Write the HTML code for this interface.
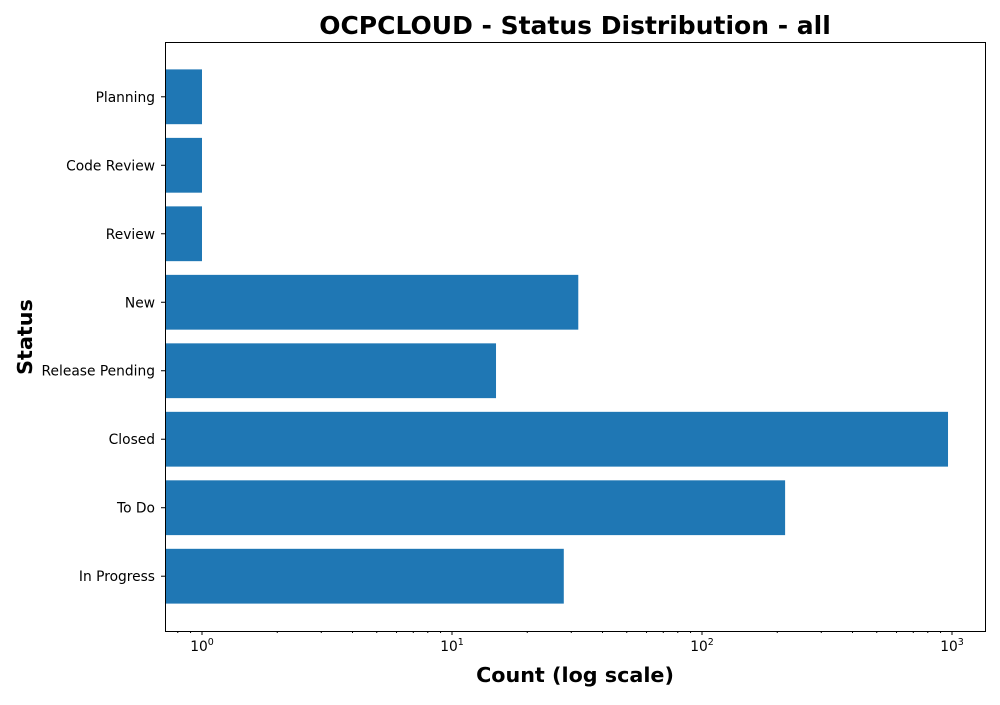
<!DOCTYPE html>
<html><head><meta charset="utf-8"><style>
body{margin:0;background:#fff;font-family:"Liberation Sans","DejaVu Sans",sans-serif;}
</style></head><body>
<svg id="chart" width="1000" height="700" xmlns="http://www.w3.org/2000/svg">
<text x="575" y="34" text-anchor="middle" font-size="25" font-weight="bold" font-family="DejaVu Sans, sans-serif">OCPCLOUD - Status Distribution - all</text>
<text x="575" y="682" text-anchor="middle" font-size="20.7" font-weight="bold" font-family="DejaVu Sans, sans-serif">Count (log scale)</text>
<text transform="translate(32,337) rotate(-90)" text-anchor="middle" font-size="20.7" font-weight="bold" font-family="DejaVu Sans, sans-serif">Status</text>
<g id="bars"></g><g id="ticks"></g>
<rect x="165.5" y="42.5" width="820" height="589" fill="none" stroke="#000" stroke-width="1"/>
</svg>
<script>
const categories=["In Progress","To Do","Closed","Release Pending","New","Review","Code Review","Planning"];
const counts=[28,215,964,15,32,1,1,1];
const decades=[0,1,2,3];
const NS="http://www.w3.org/2000/svg";
const L=165,R=985,T=42,B=631;
const xmin=-0.148,xmax=3.132;
function x(v){return L+(Math.log10(v)-xmin)/(xmax-xmin)*(R-L);}
const n=categories.length;
function y(i){return B-(i+0.5+0.3)*(B-T)/(n+0.6);}
const bw=0.8*(B-T)/(n+0.6);
const bars=document.getElementById('bars'),ticks=document.getElementById('ticks');
function mk(tag,a,p){const e=document.createElementNS(NS,tag);for(const k in a)e.setAttribute(k,a[k]);p.appendChild(e);return e;}
categories.forEach((c,i)=>{
 const r=mk('rect',{x:L,y:y(i)-bw/2,width:x(counts[i])-L,height:bw,fill:'#1f77b4'},bars);
 
 
 mk('line',{x1:L,x2:L-4,y1:y(i),y2:y(i),stroke:'#000'},ticks);
 const t=mk('text',{x:L-10,y:y(i)+5,'text-anchor':'end','font-size':13.8,'font-family':'DejaVu Sans, sans-serif'},ticks);
 t.textContent=c;
 
 
});
for(let d=-1;d<=3;d++){for(let m=1;m<10;m++){const v=m*Math.pow(10,d);const px=x(v);if(px<L||px>R)continue;
 mk('line',{x1:px,x2:px,y1:B,y2:B+(m==1?4:2),stroke:'#000'},ticks);}}
decades.forEach(d=>{
 const t=mk('text',{x:x(Math.pow(10,d)),y:B+20,'text-anchor':'middle','font-size':13.8,'font-family':'DejaVu Sans, sans-serif'},ticks);
 t.innerHTML='10<tspan dy="-6" font-size="9.5">'+d+'</tspan>';
 
 
});
</script>
</body></html>
